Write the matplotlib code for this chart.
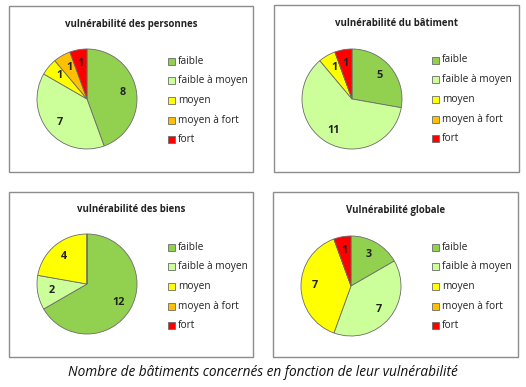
import matplotlib
matplotlib.use("Agg")
import matplotlib.pyplot as plt
from matplotlib.patches import Rectangle
import numpy as np

plt.rcParams['font.family'] = ['Open Sans', 'DejaVu Sans']

# data
categories = ["faible", "faible à moyen", "moyen", "moyen à fort", "fort"]
colors = ["#92D050", "#CCFF99", "#FFFF00", "#FFC000", "#FF0000"]
titles = ["vulnérabilité des personnes", "vulnérabilité du bâtiment",
          "vulnérabilité des biens", "Vulnérabilité globale"]
personnes = [8, 7, 1, 1, 1]
batiment = [5, 11, 1, 0, 1]
biens = [12, 2, 4, 0, 0]
globale = [3, 7, 7, 0, 1]
caption = "Nombre de bâtiments concernés en fonction de leur vulnérabilité"

W, H = 526, 387
fig = plt.figure(figsize=(W / 100, H / 100), dpi=100)

def fx(x):
    return x / W

def fy(y):
    return 1 - y / H

# box, pie center, legend marker x, first legend row y
panels = [
    ((9, 6, 253, 172), (87, 99), 168, 61),
    ((274, 5, 519, 172), (352, 99), 432, 60),
    ((9, 192, 253, 357), (87, 284), 168, 247),
    ((273, 192, 518, 357), (351, 286), 432, 247),
]
values = [personnes, batiment, biens, globale]
r = 51

for (box, center, lx, ly), vals, title in zip(panels, values, titles):
    x0, y0, x1, y1 = box
    fig.patches.append(Rectangle((fx(x0), fy(y1)), fx(x1 - x0), (y1 - y0) / H,
                                 transform=fig.transFigure, fill=False,
                                 edgecolor="#8c8c8c", linewidth=1))
    fig.text(fx((x0 + x1) / 2), fy(y0 + 18), title, ha="center", va="center",
             fontsize=6.9, fontweight="bold", color="#222222")

    cx, cy = center
    ax = fig.add_axes([fx(cx - r), fy(cy + r), fx(2 * r), 2 * r / H])
    wedges, _ = ax.pie(vals, colors=colors, startangle=90, counterclock=False,
                       wedgeprops=dict(edgecolor="#6b6b6b", linewidth=0.6))
    # data labels, skipped for empty classes
    for w, v in zip(wedges, vals):
        if v == 0:
            continue
        ang = np.deg2rad((w.theta1 + w.theta2) / 2)
        d = 0.72
        ax.text(d * np.cos(ang), d * np.sin(ang), str(v), ha="center", va="center",
                fontsize=7.8, fontweight="bold", color="#222222")
    ax.set_xlim(-1.02, 1.02)
    ax.set_ylim(-1.02, 1.02)
    ax.set_aspect("equal")
    ax.axis("off")

    # legend
    for i, (cat, col) in enumerate(zip(categories, colors)):
        yy = ly + i * 19.7
        fig.patches.append(Rectangle((fx(lx), fy(yy + 3.5)), 7 / W, 7 / H,
                                     transform=fig.transFigure, facecolor=col,
                                     edgecolor="#6b6b6b", linewidth=0.6))
        fig.text(fx(lx + 10), fy(yy), cat, ha="left", va="center",
                 fontsize=7.3, color="#222222")

fig.text(0.5, fy(372), caption, ha="center", va="center", fontsize=9.8,
         style="italic", color="#111111")

fig.savefig("out.png", dpi=100)
